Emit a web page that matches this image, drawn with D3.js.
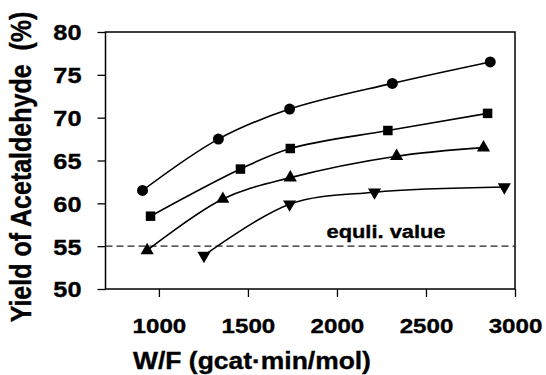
<!DOCTYPE html>
<html>
<head>
<meta charset="utf-8">
<script src="https://cdn.jsdelivr.net/npm/d3@7"></script>
<style>
  body { margin: 0; background: #fff; }
  svg { display: block; font-family: "Liberation Sans", Arial, sans-serif; font-weight: bold; }
  text { stroke: #000; stroke-width: 0.35px; }
</style>
</head>
<body>
<div id="chart"></div>
<script>
// W/F values (gcat·min/mol) and yields (%)
const wfCircle = [908, 1334, 1734, 2311, 2861]
const yieldCircle = [61.5, 67.5, 71.0, 74.0, 76.5]
const wfSquare = [953, 1458, 1738, 2286, 2846]
const yieldSquare = [58.5, 64.0, 66.4, 68.5, 70.5]
const wfTriangle = [934, 1359, 1738, 2335, 2823]
const yieldTriangle = [54.5, 60.5, 63.0, 65.5, 66.5]
const wfDown = [1253, 1734, 2211, 2940]
const yieldDown = [53.9, 59.9, 61.3, 61.9]
const equiValue = 55
const xTicks = [1000, 1500, 2000, 2500, 3000]
const yTicks = [50, 55, 60, 65, 70, 75, 80]

const W = 546, H = 375
const stretch = 1.15   // the scan is a bit wider than tall

const svg = d3.select("#chart").append("svg").attr("width", W).attr("height", H)

const x = d3.scaleLinear().domain([700, 3000]).range([105.5, 515])
const y = d3.scaleLinear().domain([50, 80]).range([289, 32])

// frame
svg.append("rect")
    .attr("x", x(700)).attr("y", y(80))
    .attr("width", x(3000) - x(700)).attr("height", y(50) - y(80))
    .attr("fill", "none").attr("stroke", "#000").attr("stroke-width", 1.5)

// x axis
const xAxis = svg.append("g")
    .attr("transform", `translate(0,${y(50)})`)
    .call(d3.axisBottom(x).tickValues(xTicks).tickFormat(d3.format("d")).tickSize(8).tickSizeOuter(0))
xAxis.select(".domain").remove()
xAxis.selectAll(".tick line").attr("stroke", "#000").attr("stroke-width", 1.3)
xAxis.selectAll(".tick text")
    .attr("y", 0).attr("dy", 0)
    .attr("transform", `translate(0,44) scale(${stretch},1)`)
    .attr("font-size", 21).attr("font-weight", "bold")
    .attr("font-family", "Liberation Sans, Arial, sans-serif")
    .attr("fill", "#000")

// y axis
const yAxis = svg.append("g")
    .attr("transform", `translate(${x(700)},0)`)
    .call(d3.axisLeft(y).tickValues(yTicks).tickSize(8).tickSizeOuter(0))
yAxis.select(".domain").remove()
yAxis.selectAll(".tick line").attr("stroke", "#000").attr("stroke-width", 1.3)
yAxis.selectAll(".tick text")
    .attr("x", 0).attr("dy", "0.36em")
    .attr("transform", `translate(-24,0) scale(${stretch},1)`)
    .attr("font-size", 22).attr("font-weight", "bold")
    .attr("font-family", "Liberation Sans, Arial, sans-serif")
    .attr("fill", "#000")

// axis titles
svg.append("text")
    .attr("transform", `translate(252,369) scale(${stretch},1)`)
    .attr("text-anchor", "middle")
    .attr("font-size", 23)
    .text("W/F (gcat·min/mol)")

svg.append("text")
    .attr("transform", `translate(31,167) scale(${stretch},1) rotate(-90)`)
    .attr("text-anchor", "middle")
    .attr("font-size", 25)
    .attr("xml:space", "preserve")
    .text("Yield of Acetaldehyde  (%)")

// equilibrium line
svg.append("line")
    .attr("x1", x(700)).attr("x2", x(3000))
    .attr("y1", y(equiValue)).attr("y2", y(equiValue))
    .attr("stroke", "#222").attr("stroke-width", 1.3)
    .attr("stroke-dasharray", "7,4")

svg.append("text")
    .attr("transform", `translate(386,238) scale(${stretch},1)`)
    .attr("text-anchor", "middle")
    .attr("font-size", 19)
    .text("equli. value")

// series
const series = [
    {xs: wfCircle, ys: yieldCircle, shape: d3.symbolCircle, size: 95, rot: 0},
    {xs: wfSquare, ys: yieldSquare, shape: d3.symbolSquare, size: 90, rot: 0},
    {xs: wfTriangle, ys: yieldTriangle, shape: d3.symbolTriangle, size: 75, rot: 0},
    {xs: wfDown, ys: yieldDown, shape: d3.symbolTriangle, size: 75, rot: 180}
]

const line = d3.line()
    .x(d => x(d[0]))
    .y(d => y(d[1]))
    .curve(d3.curveCatmullRom.alpha(0.5))

series.forEach(s => {
    const pts = s.xs.map((v, i) => [v, s.ys[i]])
    svg.append("path")
        .datum(pts)
        .attr("d", line)
        .attr("fill", "none")
        .attr("stroke", "#000")
        .attr("stroke-width", 1.6)
    svg.append("g").selectAll("path")
        .data(pts)
        .join("path")
        .attr("d", d3.symbol().type(s.shape).size(s.size))
        .attr("transform", d => `translate(${x(d[0])},${y(d[1])}) rotate(${s.rot})`)
        .attr("fill", "#000")
})
</script>
</body>
</html>
